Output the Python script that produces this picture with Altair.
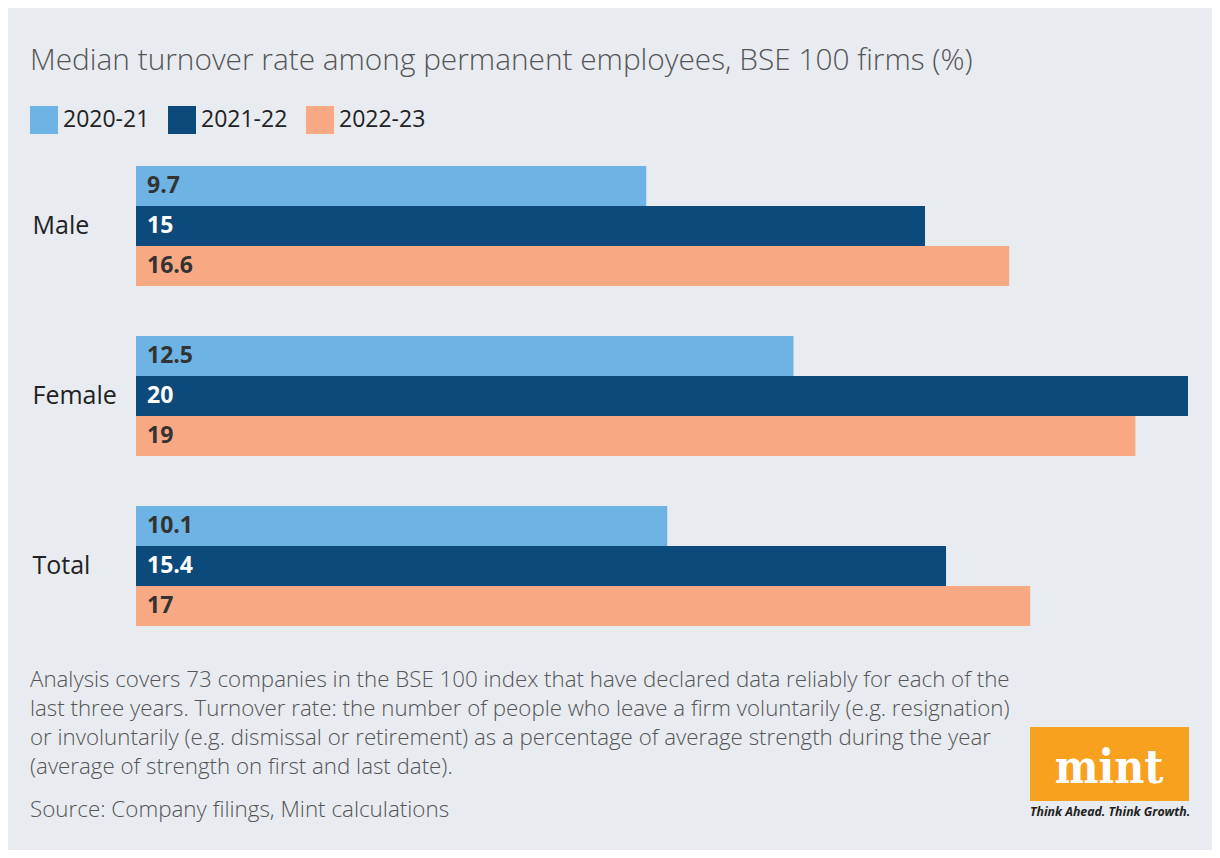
import altair as alt
import pandas as pd

categories = ["Male", "Female", "Total"]
years = ["2020-21", "2021-22", "2022-23"]
rate_2020_21 = [9.7, 12.5, 10.1]
rate_2021_22 = [15.0, 20.0, 15.4]
rate_2022_23 = [16.6, 19.0, 17.0]
year_colors = ["#6db3e4", "#0b4a7a", "#f8a983"]

title_text = "Median turnover rate among permanent employees, BSE 100 firms (%)"
note_lines = [
    "Analysis covers 73 companies in the BSE 100 index that have declared data reliably for each of the",
    "last three years. Turnover rate: the number of people who leave a firm voluntarily (e.g. resignation)",
    "or involuntarily (e.g. dismissal or retirement) as a percentage of average strength during the year",
    "(average of strength on first and last date).",
]
source_text = "Source: Company filings, Mint calculations"
logo_text = "mint"
tagline_text = "Think Ahead. Think Growth."

BG = "#e8ebf0"
FONT = "Open Sans"

rows = []
for series, vals in zip(years, [rate_2020_21, rate_2021_22, rate_2022_23]):
    for cat, v in zip(categories, vals):
        rows.append({"category": cat, "year": series, "value": v, "label": f"{v:g}"})
df = pd.DataFrame(rows)

base = alt.Chart(df).encode(
    y=alt.Y(
        "category:N",
        sort=categories,
        scale=alt.Scale(paddingInner=50 / 170, paddingOuter=0),
        axis=alt.Axis(
            title=None, domain=False, ticks=False, tickSize=0, grid=False,
            labelAlign="left", labelPadding=104, labelFontSize=25,
            labelFont=FONT, labelColor="#222222", labelBaseline="middle",
        ),
    ),
    yOffset=alt.YOffset("year:N", sort=years, scale=alt.Scale(paddingInner=0, paddingOuter=0)),
)

bars = base.mark_bar(strokeWidth=0).encode(
    x=alt.X("value:Q", scale=alt.Scale(domain=[0, 20], nice=False, zero=True), axis=None),
    color=alt.Color(
        "year:N",
        sort=years,
        scale=alt.Scale(domain=years, range=year_colors),
        legend=alt.Legend(
            orient="none", legendX=-106, legendY=-60, direction="horizontal",
            title=None, symbolType="square", symbolSize=784, symbolStrokeWidth=0,
            symbolOpacity=1, labelFontSize=23, labelFont=FONT, labelColor="#222222",
            labelOffset=5, columnPadding=18, padding=0,
        ),
    ),
)

labels = base.mark_text(
    align="left", baseline="middle", dx=11, font=FONT, fontSize=23, fontWeight="bold"
).encode(
    x=alt.datum(0),
    text="label:N",
    color=alt.condition(alt.datum.year == "2021-22", alt.value("#ffffff"), alt.value("#333333")),
)


def text_layer(txt, x, y, **kw):
    return alt.Chart(pd.DataFrame({"t": [txt]})).mark_text(**kw).encode(
        x=alt.value(x), y=alt.value(y), text="t:N"
    )


title = text_layer(title_text, -106, -96, align="left", baseline="alphabetic",
                   font=FONT, fontSize=29.8, fontWeight=300, color="#555555")
notes = text_layer("\n".join(note_lines), -106, 521, align="left", baseline="alphabetic",
                   font=FONT, fontSize=22.3, fontWeight=300, color="#555555",
                   lineBreak="\n", lineHeight=29)
source = text_layer(source_text, -106, 651, align="left", baseline="alphabetic",
                    font=FONT, fontSize=22.4, fontWeight=300, color="#555555")

logo_box = alt.Chart(pd.DataFrame({"a": [1]})).mark_rect(color="#f8a11f").encode(
    x=alt.value(894), x2=alt.value(1053), y=alt.value(561), y2=alt.value(635)
)
logo = text_layer(logo_text, 973, 617, align="center", baseline="alphabetic",
                  font="DejaVu Serif Condensed", fontSize=46, fontWeight="bold", color="#ffffff")
tagline = text_layer(tagline_text, 894, 650, align="left", baseline="alphabetic",
                     font=FONT, fontSize=12.3, fontWeight="bold", fontStyle="italic", color="#222222")

chart = alt.layer(bars, labels, title, notes, source, logo_box, logo, tagline).properties(
    width=1052, height=460,
    autosize=alt.AutoSizeParams(type="none"),
    padding={"left": 128, "top": 158, "right": 24, "bottom": 224},
    background=BG,
).configure_view(stroke=None)

chart.save("out.html", embed_options={"renderer": "svg", "actions": False})
